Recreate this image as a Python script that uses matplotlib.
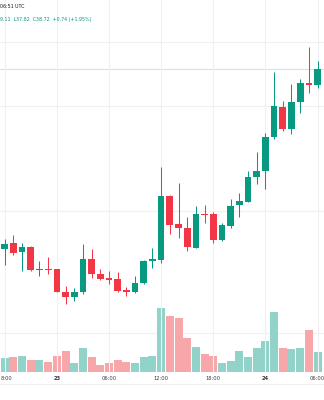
import matplotlib
matplotlib.use("Agg")
import matplotlib.pyplot as plt
from matplotlib.lines import Line2D
import numpy as np

# hourly candles, index -1 .. 36 (index 0 = 18:00 on the 22nd)
idx = list(range(-1, 37))
opens  = [30.16, 30.20, 30.46, 30.06, 30.30, 29.22, 29.24, 29.23, 28.18, 27.91, 28.18,
          29.73, 29.02, 28.84, 28.77, 28.26, 28.15, 28.58, 29.63, 29.68, 32.72, 31.37,
          31.21, 30.27, 31.88, 31.85, 30.63, 31.31, 32.29, 32.45, 33.63, 33.90, 35.53,
          36.95, 35.88, 37.16, 38.09, 37.98]
highs  = [30.63, 30.65, 30.87, 30.49, 30.35, 29.65, 29.81, 29.25, 28.46, 28.37, 30.44,
          30.19, 29.23, 29.16, 29.10, 28.39, 28.92, 29.68, 30.27, 34.08, 32.75, 33.35,
          31.73, 32.24, 32.29, 31.96, 31.45, 32.56, 32.84, 33.90, 34.82, 35.70, 38.58,
          37.23, 38.02, 38.27, 39.76, 39.11]
lows   = [29.59, 29.45, 29.92, 29.17, 29.18, 28.94, 29.02, 28.17, 27.58, 27.74, 28.07,
          28.81, 28.73, 28.52, 28.18, 27.98, 28.10, 28.52, 29.29, 29.55, 30.91, 30.71,
          30.12, 30.24, 31.41, 30.50, 30.60, 31.21, 31.73, 32.43, 33.27, 33.03, 35.40,
          35.81, 35.65, 36.63, 37.61, 37.82]
closes = [30.39, 30.44, 30.01, 30.28, 29.21, 29.24, 29.22, 28.18, 27.91, 28.18, 29.73,
          29.02, 28.80, 28.73, 28.23, 28.15, 28.58, 29.63, 29.72, 32.72, 31.34, 31.18,
          30.28, 31.88, 31.80, 30.63, 31.34, 32.24, 32.48, 33.63, 33.90, 35.53, 36.99,
          35.88, 37.17, 38.09, 37.98, 38.72]
volumes = [20.3, 13.7, 15.3, 16.3, 12.0, 12.0, 10.3, 16.0, 21.3, 8.7, 23.7,
           14.7, 7.0, 9.0, 11.7, 9.7, 8.7, 14.7, 15.7, 63.7, 56.0, 54.0,
           33.7, 25.3, 18.0, 16.0, 8.7, 11.0, 21.3, 15.0, 23.7, 31.0, 60.0,
           24.0, 23.3, 24.0, 42.0, 19.7]

tick_idx = [0, 6, 12, 18, 24, 30, 36]
tick_labels = ["8:00", "23", "06:00", "12:00", "18:00", "24", "06:00"]
bold_labels = {"23", "24"}
grid_prices = [32.0, 37.0, 40.0]
vol_grid = [38.7]

header_time = "06:51 UTC"
header_ohlc = "9.11  L37.82  C38.72  +0.74 (+1.95%)"

UP = "#089981"
DOWN = "#F23645"
UP_VOL = "#92d3c9"
DOWN_VOL = "#f7a6a9"
GRID = "#eef0f3"

fig = plt.figure(figsize=(3.24, 4.0), dpi=100)
fig.patch.set_facecolor("white")
ax = fig.add_axes([0, 0.07, 1, 0.93])
axv = ax.twinx()
ax.set_zorder(axv.get_zorder() + 1)
ax.patch.set_visible(False)

x = np.array(idx, dtype=float)
o = np.array(opens); h = np.array(highs); l = np.array(lows); c = np.array(closes)
up = c >= o

# volume
axv.bar(x, volumes, width=0.92, color=[UP_VOL if u else DOWN_VOL for u in up],
        linewidth=0, zorder=2)
axv.set_ylim(0, 372)
axv.set_yticks(vol_grid)
axv.yaxis.grid(True, color=GRID, linewidth=0.8)
axv.set_axisbelow(True)
axv.tick_params(right=False, labelright=False)

# candles
cols = [UP if u else DOWN for u in up]
ax.vlines(x, l, h, colors=cols, linewidth=0.75, zorder=3)
bottoms = np.minimum(o, c)
heights = np.maximum(np.abs(c - o), 0.05)
ax.bar(x, heights, bottom=bottoms, width=0.77, color=cols, linewidth=0, zorder=4)

# last price line
ax.axhline(closes[-1], color=UP, alpha=0.2, linewidth=0.9, zorder=1)

ax.set_xlim(-0.541, 36.74)
ax.set_ylim(24.37, 42.0)
ax.set_yticks(grid_prices)
ax.yaxis.grid(True, color=GRID, linewidth=0.8)
ax.tick_params(left=False, labelleft=False)

ax.set_xticks(tick_idx)
ax.set_xticklabels([""] + tick_labels[1:])
ax.xaxis.grid(True, color=GRID, linewidth=0.8)
ax.tick_params(axis="x", length=0, pad=2.6, labelsize=3.7, labelcolor="#3a3a3a")
for t in ax.get_xticklabels():
    t.set_fontfamily("DejaVu Sans")
    if t.get_text() in bold_labels:
        t.set_fontweight("bold")

# first (left-cropped) time label, kept inside the figure
fig.text(0.5 / 324, 1 - 378.5 / 400, tick_labels[0], fontsize=3.7, color="#3a3a3a",
         ha="left", va="center", family="DejaVu Sans")

for a in (ax, axv):
    for s in a.spines.values():
        s.set_visible(False)

fig.text(0.0, 1 - 7 / 400, header_time, fontsize=3.4, color="#131722",
         ha="left", va="center")
fig.text(0.0, 1 - 19 / 400, header_ohlc, fontsize=3.4, color=UP,
         ha="left", va="center")

fig.add_artist(Line2D([0, 1], [16 / 400, 16 / 400], color="#f0f0f0",
                      linewidth=0.8, transform=fig.transFigure))

fig.savefig("out.png", dpi=100, facecolor="white")
